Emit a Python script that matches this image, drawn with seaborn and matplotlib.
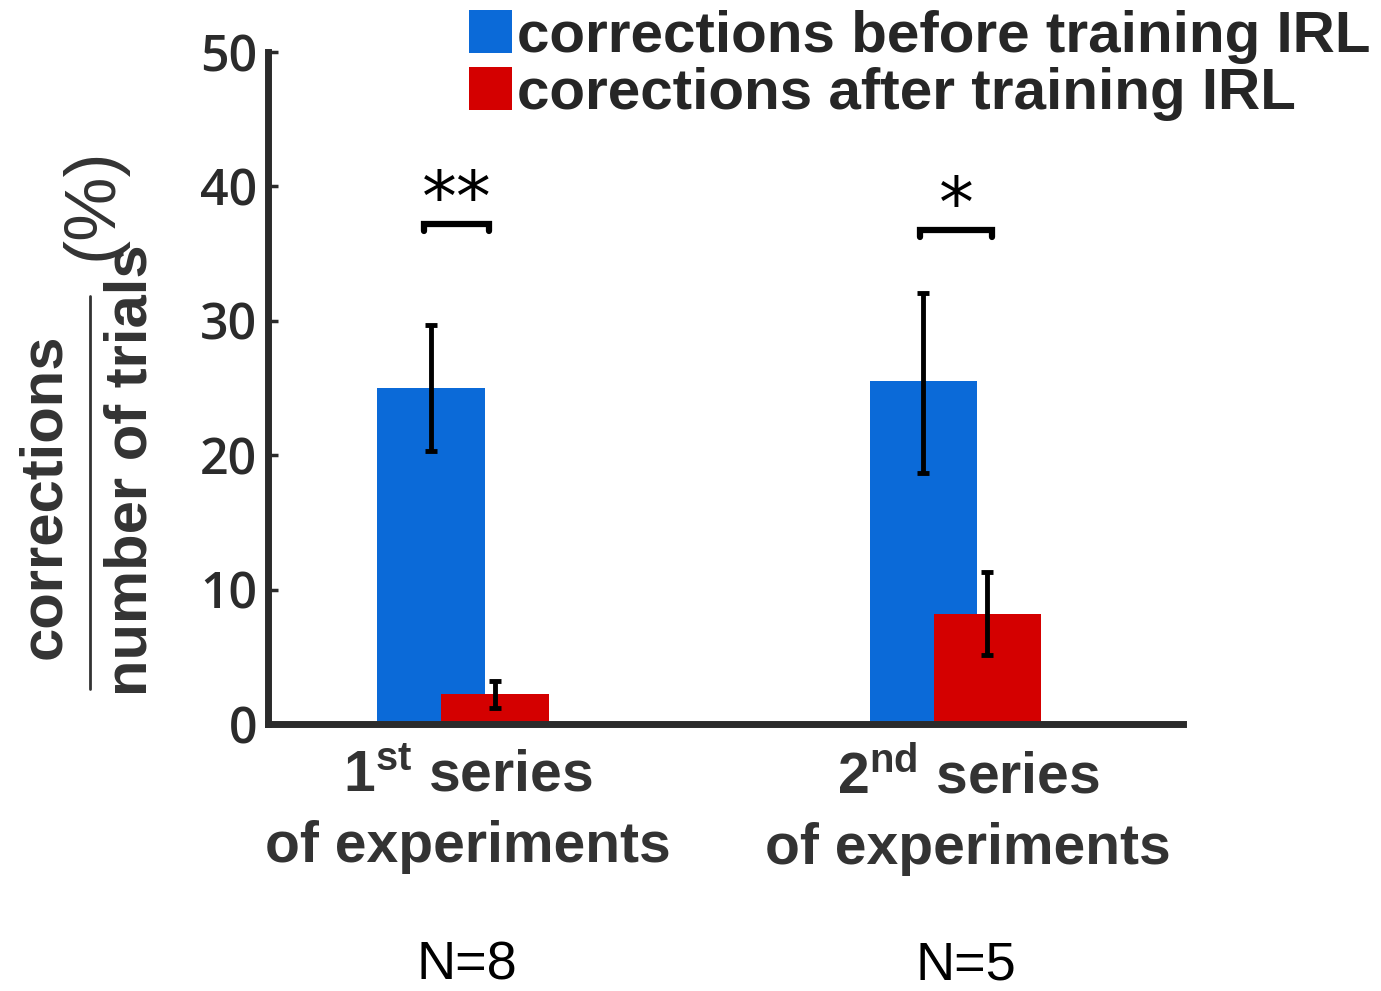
import numpy as np
import pandas as pd
import matplotlib
matplotlib.use("Agg")
import matplotlib.pyplot as plt
from matplotlib.patches import Patch
from matplotlib.lines import Line2D
from matplotlib.transforms import blended_transform_factory
import seaborn as sns

# ---------------- data ----------------
series_labels = ["1$^{\\mathregular{st}}$ series\nof experiments",
                 "2$^{\\mathregular{nd}}$ series\nof experiments"]
before_mean = [25.0, 25.5]
before_low = [20.3, 18.7]
before_high = [29.7, 32.1]
after_mean = [2.2, 8.2]
after_low = [1.2, 5.1]
after_high = [3.2, 11.3]
n_labels = ["N=8", "N=5"]
sig_labels = ["**", "*"]
legend_labels = ["corrections before training IRL", "corections after training IRL"]
y_ticks = [0, 10, 20, 30, 40, 50]

BLUE = "#0b6ad8"
RED = "#d40000"
DARK = "#2b2b2b"

sns.set_style("ticks")
plt.rcParams["font.family"] = ["Liberation Sans", "DejaVu Sans"]
plt.rcParams["mathtext.fontset"] = "custom"
plt.rcParams["mathtext.rm"] = "Liberation Sans"

fig = plt.figure(figsize=(13.81, 9.91), dpi=100)
ax = fig.add_axes([268 / 1381, 1 - 724 / 991, (1183 - 268) / 1381, (724 - 52) / 991])

pos = np.arange(1, len(before_mean) + 1, dtype=float)
off = 0.065
bw = 0.218

df_b = pd.DataFrame({"x": pos - off, "y": before_mean})
df_a = pd.DataFrame({"x": pos + off, "y": after_mean})
sns.barplot(data=df_b, x="x", y="y", native_scale=True, width=bw, color=BLUE,
            saturation=1, linewidth=0, edgecolor="none", errorbar=None, ax=ax, zorder=1)
sns.barplot(data=df_a, x="x", y="y", native_scale=True, width=bw, color=RED,
            saturation=1, linewidth=0, edgecolor="none", errorbar=None, ax=ax, zorder=1.5)

bm = np.array(before_mean); am = np.array(after_mean)
ax.errorbar(pos - off, bm, yerr=[bm - np.array(before_low), np.array(before_high) - bm],
            fmt="none", ecolor="black", elinewidth=3.5, capsize=4, capthick=3.5, zorder=3)
ax.errorbar(pos + off, am, yerr=[am - np.array(after_low), np.array(after_high) - am],
            fmt="none", ecolor="black", elinewidth=3.5, capsize=4, capthick=3.5, zorder=3)

# significance brackets
br_y = [37.2, 36.75]
br_l = [-0.079, -0.072]
br_r = [0.053, 0.074]
for p, s, y, l, r in zip(pos, sig_labels, br_y, br_l, br_r):
    ax.plot([p + l, p + l, p + r, p + r], [y - 0.5, y, y, y - 0.5], color="black",
            lw=4.5, solid_joinstyle="miter", clip_on=False)
    ax.text(p + (l + r) / 2, y + 0.2, s, ha="center", va="baseline", fontsize=50,
            family="DejaVu Sans", color="black")

# caption positions nudged slightly right of the group centres (as in the original)
cap_dx = np.array([0.01, 0.026])
cap_pos = pos + cap_dx

ax.set_xlim(0.604, 2.462)
ax.set_ylim(0, 50)
ax.set_yticks(y_ticks)
ax.set_yticklabels([str(t) for t in y_ticks], family="Open Sans", fontsize=36,
                   fontweight="semibold", color=DARK)
ax.set_xticks(cap_pos)
ax.set_xticklabels(series_labels, fontsize=41, fontweight="bold", color="#333333",
                   linespacing=1.38)
ax.tick_params(axis="y", direction="in", length=7, width=2.5, color=DARK, pad=8)
ax.tick_params(axis="x", length=0, pad=18.5)
ax.set_xlabel("")
ax.set_ylabel("")
for side in ["top", "right"]:
    ax.spines[side].set_visible(False)
for side in ["left", "bottom"]:
    ax.spines[side].set_linewidth(5)
    ax.spines[side].set_color(DARK)

# N labels
tr = blended_transform_factory(ax.transData, fig.transFigure)
for p, n in zip(pos + cap_dx * 0.8, n_labels):
    ax.text(p, 1 - 965 / 991, n, transform=tr, ha="center", va="center",
            fontsize=39, color="black")

# y label (fraction)
fig.text(45 / 1381, 1 - 496 / 991, "corrections", rotation=90, ha="center", va="center",
         fontsize=43, fontweight="bold", color="#333333")
fig.text(131 / 1381, 1 - 470 / 991, "number of trials", rotation=90, ha="center", va="center",
         fontsize=43, fontweight="bold", color="#333333")
fig.add_artist(Line2D([90 / 1381, 90 / 1381], [1 - 296 / 991, 1 - 689 / 991],
                      transform=fig.transFigure, color="#333333", lw=2))
fig.text(93 / 1381, 1 - 204 / 991, "(%)", rotation=90, ha="center", va="center",
         fontsize=52, color="#333333")

# legend
handles = [Patch(facecolor=BLUE, edgecolor="none"), Patch(facecolor=RED, edgecolor="none")]
fig.legend(handles, legend_labels, loc="upper left", bbox_to_anchor=(469 / 1381, 1 - 10 / 991),
           frameon=False, prop={"weight": "bold", "size": 42},
           handlelength=0.74, handleheight=0.74, handletextpad=0.09,
           labelspacing=0.05, borderpad=0, borderaxespad=0)

fig.savefig("out.png", dpi=100)
